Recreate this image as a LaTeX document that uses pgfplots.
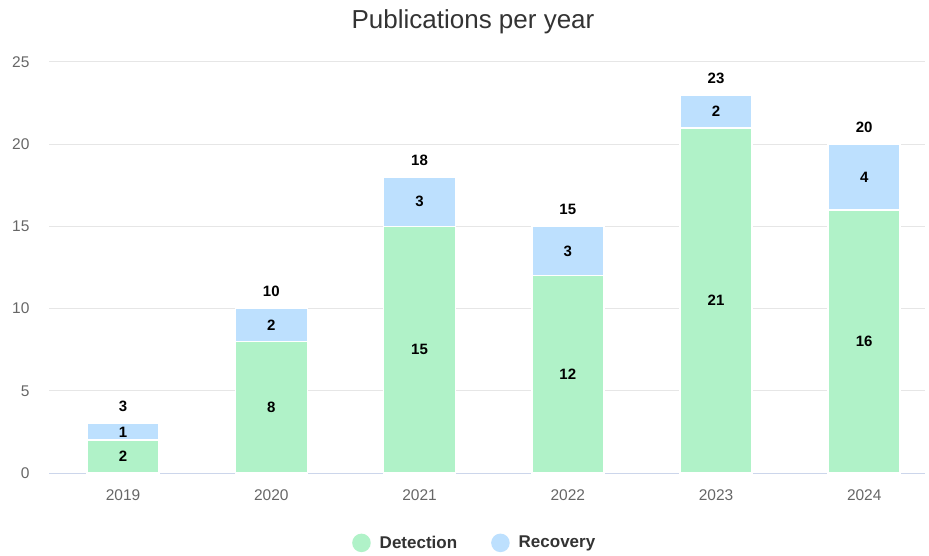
\documentclass[border=0pt]{standalone}
\usepackage{pgfplots}
\pgfplotsset{compat=1.18}
\usepackage{fontspec}
\setmainfont{Liberation Sans}
\definecolor{det}{HTML}{B0F2C8}
\definecolor{rec}{HTML}{BDE0FE}
\definecolor{gridc}{HTML}{E6E6E6}
\definecolor{axisl}{HTML}{CCD6EB}
\definecolor{lab}{HTML}{666666}
\definecolor{ttl}{HTML}{333333}
\begin{document}
\begin{tikzpicture}
\useasboundingbox (-49pt,-82pt) rectangle (880pt,473pt);
\begin{axis}[at={(0,0)}, anchor=south west, scale only axis,
  width=876pt, height=411pt,
  ybar stacked, bar width=72pt,
  xmin=-0.5, xmax=5.41, ymin=0, ymax=25,
  xtick={0,...,5}, xticklabels={2019,2020,2021,2022,2023,2024},
  ytick={0,5,...,25},
  axis x line=bottom, axis y line=left,
  y axis line style={draw=none},
  x axis line style={draw=axisl, line width=1pt, -},
  major tick length=0pt,
  ymajorgrids, grid style={gridc, line width=1pt},
  tick label style={font=\fontsize{15.5}{18}\selectfont, text=lab},
  /pgf/number format/assume math mode=true,
  xticklabel style={yshift=-13pt},
  yticklabel style={xshift=-16pt},
  title={Publications per year},
  title style={at={(axis description cs:0.484,1)}, anchor=center, yshift=34pt,
    font=\fontsize{26}{31}\selectfont, text=ttl},
  legend style={at={(axis description cs:0.486,-0.17)}, anchor=center, draw=none,
    legend columns=2, font=\bfseries\fontsize{17}{20}\selectfont, text=ttl,
    /tikz/every odd column/.append style={column sep=7pt},
    /tikz/every even column/.append style={column sep=32pt}},
  legend cell align=left,
]
\addplot[fill=det, draw=white, line width=1.5pt,
  legend image code/.code={\fill[det] (0pt,0pt) circle (8.5pt);},
  nodes near coords={\pgfmathprintnumber{\rawy}},
  visualization depends on=rawy\as\rawy,
  every node near coord/.append style={anchor=center, font=\bfseries\fontsize{15}{18}\selectfont, text=black}]
  coordinates {(0,2) (1,8) (2,15) (3,12) (4,21) (5,16)};
\addlegendentry{Detection}
\addplot[fill=rec, draw=white, line width=1.5pt,
  legend image code/.code={\fill[rec] (0pt,0pt) circle (8.5pt);},
  nodes near coords={\pgfmathprintnumber{\rawy}},
  visualization depends on=rawy\as\rawy,
  every node near coord/.append style={anchor=center, font=\bfseries\fontsize{15}{18}\selectfont, text=black}]
  coordinates {(0,1) (1,2) (2,3) (3,3) (4,2) (5,4)};
\addlegendentry{Recovery}
\addplot[draw=none, fill=none, forget plot, stack plots=false,
  nodes near coords={\pgfmathprintnumber{\rawy}},
  visualization depends on=rawy\as\rawy,
  every node near coord/.append style={anchor=center, yshift=17pt, font=\bfseries\fontsize{15}{18}\selectfont, text=black,
    shift={(axis direction cs:0,\rawy/2)}}]
  coordinates {(0,3) (1,10) (2,18) (3,15) (4,23) (5,20)};
\end{axis}
\end{tikzpicture}
\end{document}
